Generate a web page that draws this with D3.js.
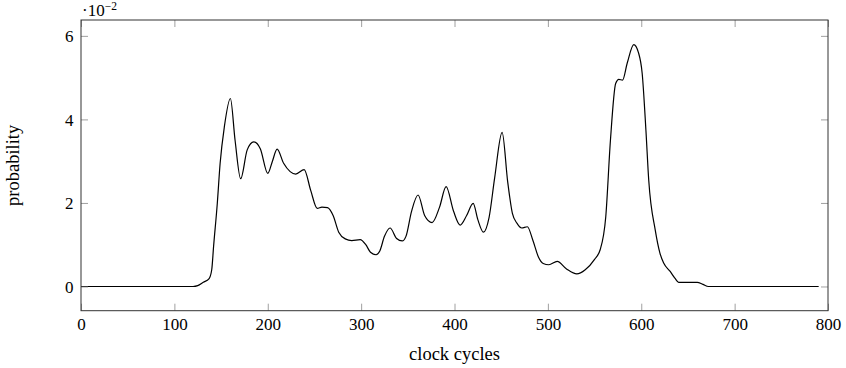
<!DOCTYPE html>
<html>
<head>
<meta charset="utf-8">
<script src="https://cdn.jsdelivr.net/npm/d3@7"></script>
<style>
	body{margin:0;background:#fff;}
	text{font-family:"Liberation Serif",serif;fill:#000;}
</style>
</head>
<body>
<svg width="846" height="368"></svg>
<script>
// clock cycle positions and probability (in units of 10^-2)
var cycles = [0,120,125,131,137,140,142,146,149,153.5,160,165,171,178,185,192,200,205,210,217,224,230,239,246,253,258,264,270,276,283,290,299,305,310,316,320,325,331,338,344,348,354,361,368,376,384,391,399,406,413,420,425,431,437,443,451,457,462,467,472,478,484,490,495,501,510,520,531,540,550,556,562,567,572.6,576,580,585,592,597,601,605,608,615,620,624,631,636,640,650,660,666,672,700,790];
var prob = [0,0,0.02,0.1,0.18,0.4,0.96,2.0,2.95,3.82,4.5,3.5,2.58,3.27,3.46,3.3,2.71,3.0,3.29,2.95,2.75,2.69,2.8,2.3,1.87,1.9,1.89,1.7,1.3,1.14,1.1,1.12,1.0,0.82,0.76,0.85,1.2,1.4,1.15,1.09,1.2,1.8,2.19,1.7,1.53,1.9,2.39,1.8,1.47,1.7,1.99,1.6,1.3,1.65,2.6,3.69,2.5,1.75,1.51,1.4,1.43,1.1,0.7,0.55,0.52,0.6,0.42,0.3,0.4,0.65,0.88,1.67,3.5,4.86,4.96,4.94,5.35,5.79,5.6,5.1,3.74,2.55,1.35,0.8,0.56,0.36,0.2,0.1,0.1,0.1,0.05,0,0,0];

var xTicks = [0,100,200,300,400,500,600,700,800];
var yTicks = [0,2,4,6];

var svg = d3.select('svg');
var box = {left:81,right:828,top:20,bottom:310.7};

var xscale = d3.scaleLinear().domain([0,800]).range([box.left,box.right]);
var yscale = d3.scaleLinear().domain([-0.58,6.38]).range([box.bottom,box.top]);

var data = cycles.map((c,i) => ({x:c,y:prob[i]}));

// curve
var line = d3.line()
	.x(d => xscale(d.x))
	.y(d => yscale(d.y))
	.curve(d3.curveMonotoneX);

svg.append('path')
	.datum(data)
	.attr('d',line)
	.attr('fill','none')
	.attr('stroke','#000')
	.attr('stroke-width',1.2);

// axes, ticks pointing inward on all four sides
var tickLen = 7;
function styleAxis(g){
	g.select('.domain').remove();
	g.selectAll('.tick line').attr('stroke','#888').attr('stroke-width',0.8);
	g.selectAll('.tick text').attr('font-family','"Liberation Serif",serif').attr('fill','#000');
}

svg.append('g')
	.attr('transform',`translate(0,${box.bottom})`)
	.call(d3.axisBottom(xscale).tickValues(xTicks).tickFormat(d3.format('d')).tickSizeInner(-tickLen).tickSizeOuter(0))
	.call(styleAxis)
	.call(g => g.selectAll('.tick text').attr('font-size',17).attr('y',19.5).attr('dy',0));

svg.append('g')
	.attr('transform',`translate(0,${box.top})`)
	.call(d3.axisTop(xscale).tickValues(xTicks).tickFormat('').tickSizeInner(-tickLen).tickSizeOuter(0))
	.call(styleAxis);

svg.append('g')
	.attr('transform',`translate(${box.left},0)`)
	.call(d3.axisLeft(yscale).tickValues(yTicks).tickFormat(d3.format('d')).tickSizeInner(-tickLen).tickSizeOuter(0))
	.call(styleAxis)
	.call(g => g.selectAll('.tick text').attr('font-size',17).attr('x',-7.5).attr('dy','0.33em'));

svg.append('g')
	.attr('transform',`translate(${box.right},0)`)
	.call(d3.axisRight(yscale).tickValues(yTicks).tickFormat('').tickSizeInner(-tickLen).tickSizeOuter(0))
	.call(styleAxis);

// frame
svg.append('rect')
	.attr('x',box.left)
	.attr('y',box.top)
	.attr('width',box.right-box.left)
	.attr('height',box.bottom-box.top)
	.attr('fill','none')
	.attr('stroke','#333')
	.attr('stroke-width',1);

// labels
svg.append('text')
	.attr('x',(box.left+box.right)/2)
	.attr('y',360)
	.attr('text-anchor','middle')
	.attr('font-size',18.5)
	.text('clock cycles');

svg.append('text')
	.attr('transform',`translate(19,${(box.top+box.bottom)/2}) rotate(-90)`)
	.attr('text-anchor','middle')
	.attr('font-size',18.5)
	.text('probability');

var scaleLabel = svg.append('text')
	.attr('x',82)
	.attr('y',16)
	.attr('font-size',17);
scaleLabel.append('tspan').text('·10');
scaleLabel.append('tspan').attr('dy',-6).attr('font-size',11.5).text('−2');
</script>
</body>
</html>
